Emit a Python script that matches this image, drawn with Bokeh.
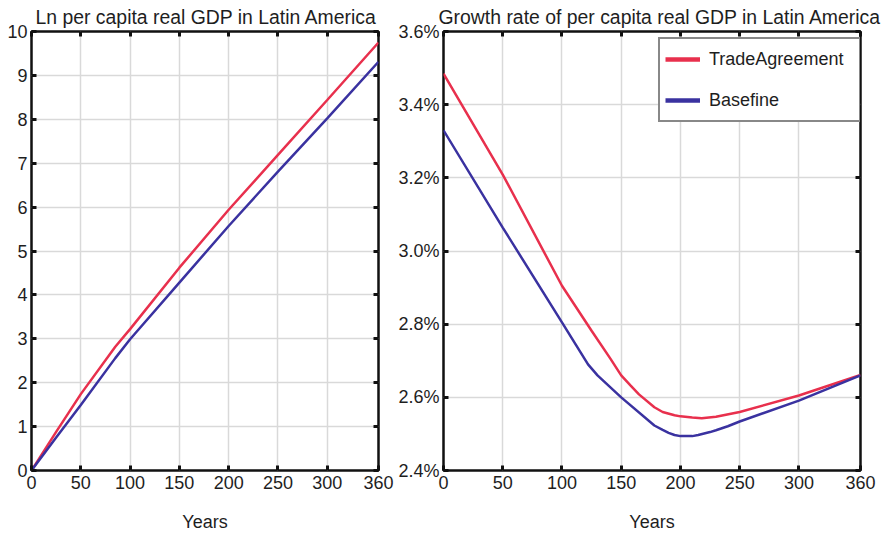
from bokeh.plotting import figure
from bokeh.models import FixedTicker, LinearAxis, Legend, LegendItem, PrintfTickFormatter, Range1d
from bokeh.layouts import row
from bokeh.embed import file_html
from bokeh.resources import INLINE

# ---- data ----
ln_years = [0, 25, 50, 85, 100, 150, 200, 250, 300, 352]
ln_trade = [0.0, 0.88, 1.74, 2.82, 3.22, 4.62, 5.94, 7.19, 8.44, 9.75]
ln_base = [0.0, 0.75, 1.49, 2.56, 2.99, 4.28, 5.57, 6.81, 8.02, 9.31]

gr_years_trade = [0, 50, 100, 125, 141, 150, 158, 165, 178, 185, 195, 200, 210, 218, 230, 250, 300, 352]
gr_trade = [3.485, 3.209, 2.905, 2.782, 2.705, 2.660, 2.632, 2.608, 2.573, 2.560, 2.551, 2.548, 2.545,
            2.543, 2.547, 2.560, 2.605, 2.661]
gr_years_base = [0, 50, 100, 122, 130, 150, 178, 185, 190, 195, 200, 210, 215, 225, 230, 240, 250, 300, 352]
gr_base = [3.33, 3.064, 2.805, 2.690, 2.660, 2.600, 2.523, 2.511, 2.503, 2.497, 2.494, 2.494, 2.497,
           2.505, 2.510, 2.521, 2.534, 2.591, 2.660]

x_ticks = [0, 50, 100, 150, 200, 250, 300, ln_years[-1]]
x_tick_labels = ["0", "50", "100", "150", "200", "250", "300", "360"]
ln_ticks = [0, 1, 2, 3, 4, 5, 6, 7, 8, 9, 10]
gr_ticks = [2.4, 2.6, 2.8, 3.0, 3.2, 3.4, 3.6]

titles = ["Ln per capita real GDP in Latin America",
          "Growth rate of per capita real GDP in Latin America"]
series_names = ["TradeAgreement", "Basefine"]
colors = ["#e8304d", "#3a32a0"]
x_label = "Years"

FONT = "Liberation Sans"
TXT = "#1e1e1e"
FRAME = "#111111"


def mirror_axis(ticks):
    return LinearAxis(ticker=FixedTicker(ticks=ticks), major_label_text_font_size="0px",
                      major_label_text_color=None, major_label_standoff=0,
                      axis_line_color=None, major_tick_in=5, major_tick_out=0,
                      major_tick_line_width=3, major_tick_line_color=FRAME,
                      minor_tick_line_color=None)


def style(p, yticks, title, title_offset):
    p.title.text = title
    p.title.align = "left"
    p.title.offset = title_offset
    p.title.text_font = FONT
    p.title.text_font_size = "19.4px"
    p.title.text_font_style = "normal"
    p.title.text_color = TXT
    p.title.standoff = 7
    p.outline_line_color = FRAME
    p.outline_line_width = 2.5
    p.xgrid.ticker = FixedTicker(ticks=x_ticks)
    p.ygrid.ticker = FixedTicker(ticks=yticks)
    p.grid.grid_line_color = "#d9d9d9"
    p.grid.grid_line_width = 1.5
    overrides = {t: l for t, l in zip(x_ticks, x_tick_labels)}
    for ax in p.xaxis:
        ax.ticker = FixedTicker(ticks=x_ticks)
        ax.major_label_overrides = overrides
        ax.axis_label = x_label
        ax.axis_label_text_font = FONT
        ax.axis_label_text_font_size = "18px"
        ax.axis_label_text_font_style = "normal"
        ax.axis_label_text_color = TXT
        ax.axis_label_standoff = 20
        ax.major_label_standoff = 5
    for ax in p.yaxis:
        ax.ticker = FixedTicker(ticks=yticks)
        ax.major_label_standoff = 4
    for ax in p.axis:
        ax.major_label_text_font = FONT
        ax.major_label_text_font_size = "18px"
        ax.major_label_text_color = TXT
        ax.axis_line_color = None
        ax.major_tick_in = 5
        ax.major_tick_out = 0
        ax.major_tick_line_width = 3
        ax.major_tick_line_color = FRAME
        ax.minor_tick_line_color = None
    p.add_layout(mirror_axis(x_ticks), "above")
    p.add_layout(mirror_axis(yticks), "right")


p1 = figure(width=395, height=534, output_backend="svg", toolbar_location=None,
            x_range=Range1d(0, ln_years[-1]), y_range=Range1d(0, 10),
            min_border_left=31, min_border_right=17, min_border_top=31, min_border_bottom=62)
p1.line(ln_years, ln_trade, line_color=colors[0], line_width=2.5)
p1.line(ln_years, ln_base, line_color=colors[1], line_width=2.5)
style(p1, ln_ticks, titles[0], 4)

p2 = figure(width=496, height=534, output_backend="svg", toolbar_location=None,
            x_range=Range1d(0, gr_years_trade[-1]), y_range=Range1d(2.4, 3.6),
            min_border_left=48, min_border_right=31, min_border_top=31, min_border_bottom=62)
p2.line(gr_years_trade, gr_trade, line_color=colors[0], line_width=2.5)
p2.line(gr_years_base, gr_base, line_color=colors[1], line_width=2.5)
style(p2, gr_ticks, titles[1], -5)
p2.yaxis[0].formatter = PrintfTickFormatter(format="%.1f%%")

# legend-only glyphs (a single point draws no visible line in the plot)
lg1 = p2.line(gr_years_trade[:1], gr_trade[:1], line_color=colors[0], line_width=4.5)
lg2 = p2.line(gr_years_base[:1], gr_base[:1], line_color=colors[1], line_width=4.5)
legend = Legend(items=[LegendItem(label=series_names[0], renderers=[lg1]),
                       LegendItem(label=series_names[1], renderers=[lg2])],
                location=(215, 348))
legend.label_text_font = FONT
legend.label_text_font_size = "18px"
legend.label_text_color = TXT
legend.glyph_width = 35
legend.label_standoff = 9
legend.label_width = 145
legend.padding = 5
legend.spacing = 11
legend.label_height = 30
legend.glyph_height = 30
legend.margin = 0
legend.border_line_color = FRAME
legend.border_line_width = 2.5
legend.background_fill_color = "white"
legend.background_fill_alpha = 1.0
p2.add_layout(legend, "center")

layout = row(p1, p2)
open("out.html", "w").write(file_html(layout, INLINE))
